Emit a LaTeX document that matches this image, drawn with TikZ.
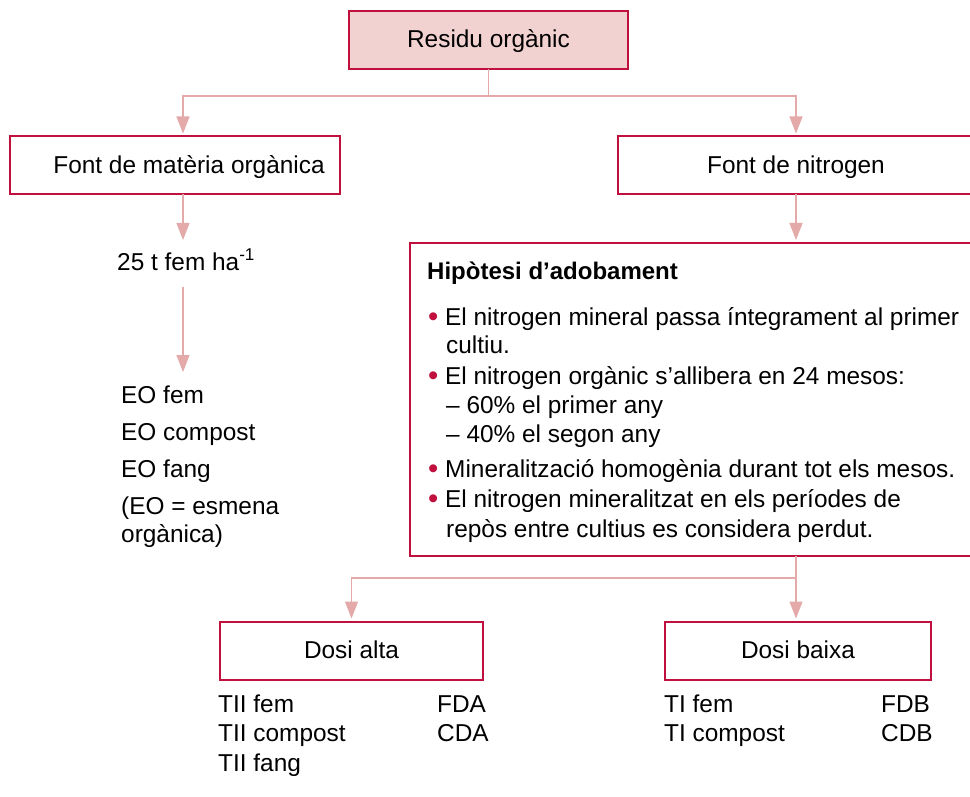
\documentclass[tikz,border=0pt]{standalone}
\usepackage{fontspec}
\setmainfont{Liberation Sans}
\usetikzlibrary{arrows.meta}
\definecolor{boxred}{RGB}{192,16,62}
\definecolor{linkpink}{RGB}{228,170,170}
\definecolor{headfill}{RGB}{242,210,208}

\begin{document}
\begin{tikzpicture}[x=1pt,y=-1pt,
  font=\fontsize{24.4}{29}\selectfont,
  box/.style={draw=boxred,line width=2pt,inner sep=0pt,outer sep=0pt,
    minimum height=58pt,text height=16pt,text depth=0pt},
  link/.style={draw=linkpink,line width=1.3pt},
  arr/.style={link,-{Triangle[length=17pt,width=13pt,fill=linkpink]},shorten >=3pt},
  txt/.style={anchor=base west,inner sep=0pt},
  bul/.style={txt},
]
\useasboundingbox (0,0) rectangle (970,797);
\clip (0,0) rectangle (970,797);
\fill[white] (0,0) rectangle (970,797);

% main boxes
\node[box,fill=headfill,minimum width=279pt] (res) at (488.5,40) {Residu orgànic};
\node[box,minimum width=330pt] (fmo) at (175,165.5) {\hspace*{28pt}Font de matèria orgànica};
\node[box,minimum width=356pt] (fn) at (796,165.5) {Font de nitrogen};
\node[box,minimum width=772pt,minimum height=313pt] (hyp) at (796,399.5) {};
\node[box,minimum width=263pt] (alta) at (351.5,650.5) {Dosi alta};
\node[box,minimum width=266pt] (baixa) at (798,650.5) {Dosi baixa};

% organic matter branch
\node[txt] (dose) at (117,270) {25 t fem ha\textsuperscript{-1}};
\node[txt] (eo1) at (121,403) {EO fem};
\node[txt] (eo2) at (121,440) {EO compost};
\node[txt] (eo3) at (121,477) {EO fang};
\node[txt] (eo4) at (121,514) {(EO = esmena};
\node[txt] (eo5) at (121,542) {orgànica)};

% fertilisation hypothesis
\node[txt,font=\fontsize{24}{29}\selectfont\bfseries] (hh) at (427,279) {Hipòtesi d’adobament};
\newcommand{\bdot}{\makebox[17pt][l]{\textcolor{boxred}{\raisebox{-1.3pt}{\scalebox{1.2}{•}}}}}
\node[bul] (h1) at (428,325) {\bdot El nitrogen mineral passa íntegrament al primer};
\node[txt] (h1b) at (446,353) {cultiu.};
\node[bul] (h2) at (428,384) {\bdot El nitrogen orgànic s’allibera en 24 mesos:};
\node[txt] (h2a) at (446,413) {– 60\% el primer any};
\node[txt] (h2b) at (446,442) {– 40\% el segon any};
\node[bul] (h3) at (428,477) {\bdot Mineralització homogènia durant tot els mesos.};
\node[bul] (h4) at (428,507) {\bdot El nitrogen mineralitzat en els períodes de};
\node[txt] (h4b) at (446,537) {repòs entre cultius es considera perdut.};

% treatments
\node[txt] (a1) at (218,712) {TII fem};
\node[txt] (a2) at (218,741) {TII compost};
\node[txt] (a3) at (218,771) {TII fang};
\node[txt] (a4) at (437,712) {FDA};
\node[txt] (a5) at (437,741) {CDA};
\node[txt] (b1) at (664,712) {TI fem};
\node[txt] (b2) at (664,741) {TI compost};
\node[txt] (b4) at (881,712) {FDB};
\node[txt] (b5) at (881,741) {CDB};

% connectors
\coordinate (j1) at (488.5,96);
\coordinate (d1) at (183,243);
\coordinate (d2) at (183,287);
\coordinate (d3) at (183,375);
\draw[link] (res.south) -- (j1);
\draw[arr] (j1) -| ([xshift=8pt]fmo.north);
\draw[arr] (j1) -| (fn.north);
\draw[arr] ([xshift=8pt]fmo.south) -- (d1);
\draw[arr] (d2) -- (d3);
\draw[arr] (fn.south) -- (hyp.north);
\draw[link] (hyp.south) -- ++(0,22) coordinate (j2);
\draw[arr] (j2) -| (alta.north);
\draw[arr] (j2) -- (j2 |- baixa.north);
\end{tikzpicture}
\end{document}
